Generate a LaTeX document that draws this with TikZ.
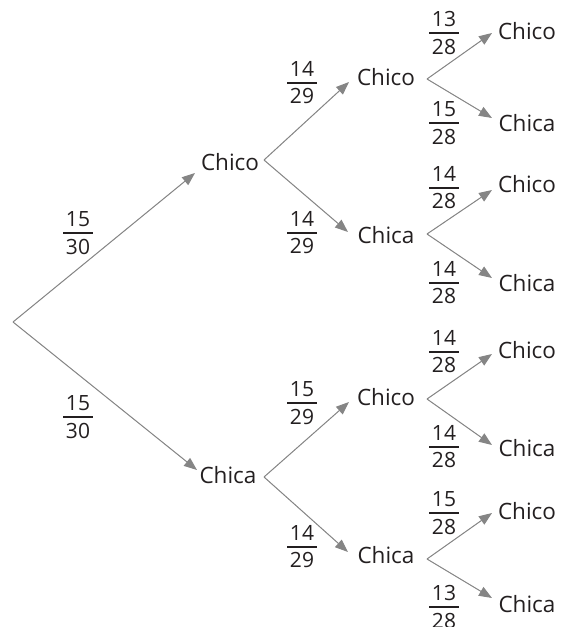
\documentclass[tikz,border=0pt]{standalone}
\usepackage{fontspec}
\setmainfont{Open Sans}
\usetikzlibrary{arrows.meta,calc}
\definecolor{ink}{HTML}{231F20}
\definecolor{branch}{HTML}{858585}
% stacked fraction: numerator, bar, denominator
\newcommand{\stackfrac}[2]{\vbox{\hbox to 30pt{\hss#1\hss}\kern5pt\hrule height 1.8pt\kern5pt\hbox to 30pt{\hss#2\hss}}}
\tikzset{
  word/.style={inner sep=0pt, text=ink, font=\fontsize{22.5}{22.5}\selectfont},
  prob/.style={inner sep=0pt, text=ink, font=\fontsize{21}{21}\selectfont},
  branchline/.style={draw=branch, line width=1pt, -{Triangle[length=13pt,width=10pt]}, fill=branch},
}
\begin{document}
\begin{tikzpicture}[x=1pt,y=-1pt]
\useasboundingbox (0,0) rectangle (569,627);

% root
\coordinate (r) at (13,322);

% first level
\node[word] (a) at (230,162) {Chico};
\node[word] (b) at (228,475) {Chica};

% second level
\node[word] (aa) at (386,77) {Chico};
\node[word] (ab) at (386,235) {Chica};
\node[word] (ba) at (386,397) {Chico};
\node[word] (bb) at (386,555) {Chica};

% third level
\node[word] (aaa) at (527,31) {Chico};
\node[word] (aab) at (527,123) {Chica};
\node[word] (aba) at (527,184) {Chico};
\node[word] (abb) at (527,283) {Chica};
\node[word] (baa) at (527,350) {Chico};
\node[word] (bab) at (527,448) {Chica};
\node[word] (bba) at (527,511) {Chico};
\node[word] (bbb) at (527,604) {Chica};

% branch points to the right of each word
\coordinate (av) at ($(a)+(34,-2)$);
\coordinate (bv) at ($(b)+(36,2)$);
\coordinate (aav) at ($(aa)+(41,2)$);
\coordinate (abv) at ($(ab)+(41,-1)$);
\coordinate (bav) at ($(ba)+(41,2)$);
\coordinate (bbv) at ($(bb)+(41,4)$);

% branches
\draw[branchline] (r) -- ($(a)+(-35,11)$);
\draw[branchline] (r) -- ($(b)+(-31,-5)$);

\draw[branchline] (av) -- ($(aa)+(-37,5)$);
\draw[branchline] (av) -- ($(ab)+(-38,-3)$);
\draw[branchline] (bv) -- ($(ba)+(-37,5)$);
\draw[branchline] (bv) -- ($(bb)+(-38,-3)$);

\draw[branchline] (aav) -- ($(aaa)+(-35,2)$);
\draw[branchline] (aav) -- ($(aab)+(-35,-5)$);
\draw[branchline] (abv) -- ($(aba)+(-35,6)$);
\draw[branchline] (abv) -- ($(abb)+(-35,-5)$);
\draw[branchline] (bav) -- ($(baa)+(-35,4)$);
\draw[branchline] (bav) -- ($(bab)+(-35,-3)$);
\draw[branchline] (bbv) -- ($(bba)+(-35,2)$);
\draw[branchline] (bbv) -- ($(bbb)+(-35,-6)$);

% probabilities
\node[prob] (p-a) at (78,233) {\stackfrac{15}{30}};
\node[prob] (p-b) at (78,417) {\stackfrac{15}{30}};

\node[prob] (p-aa) at (302,83) {\stackfrac{14}{29}};
\node[prob] (p-ab) at (302,233) {\stackfrac{14}{29}};
\node[prob] (p-ba) at (302,403) {\stackfrac{15}{29}};
\node[prob] (p-bb) at (302,547) {\stackfrac{14}{29}};

\node[prob] (p-aaa) at (444,33) {\stackfrac{13}{28}};
\node[prob] (p-aab) at (444,123) {\stackfrac{15}{28}};
\node[prob] (p-aba) at (444,188) {\stackfrac{14}{28}};
\node[prob] (p-abb) at (444,283) {\stackfrac{14}{28}};
\node[prob] (p-baa) at (444,352) {\stackfrac{14}{28}};
\node[prob] (p-bab) at (444,447) {\stackfrac{14}{28}};
\node[prob] (p-bba) at (444,513) {\stackfrac{15}{28}};
\node[prob] (p-bbb) at (444,607) {\stackfrac{13}{28}};
\end{tikzpicture}
\end{document}
